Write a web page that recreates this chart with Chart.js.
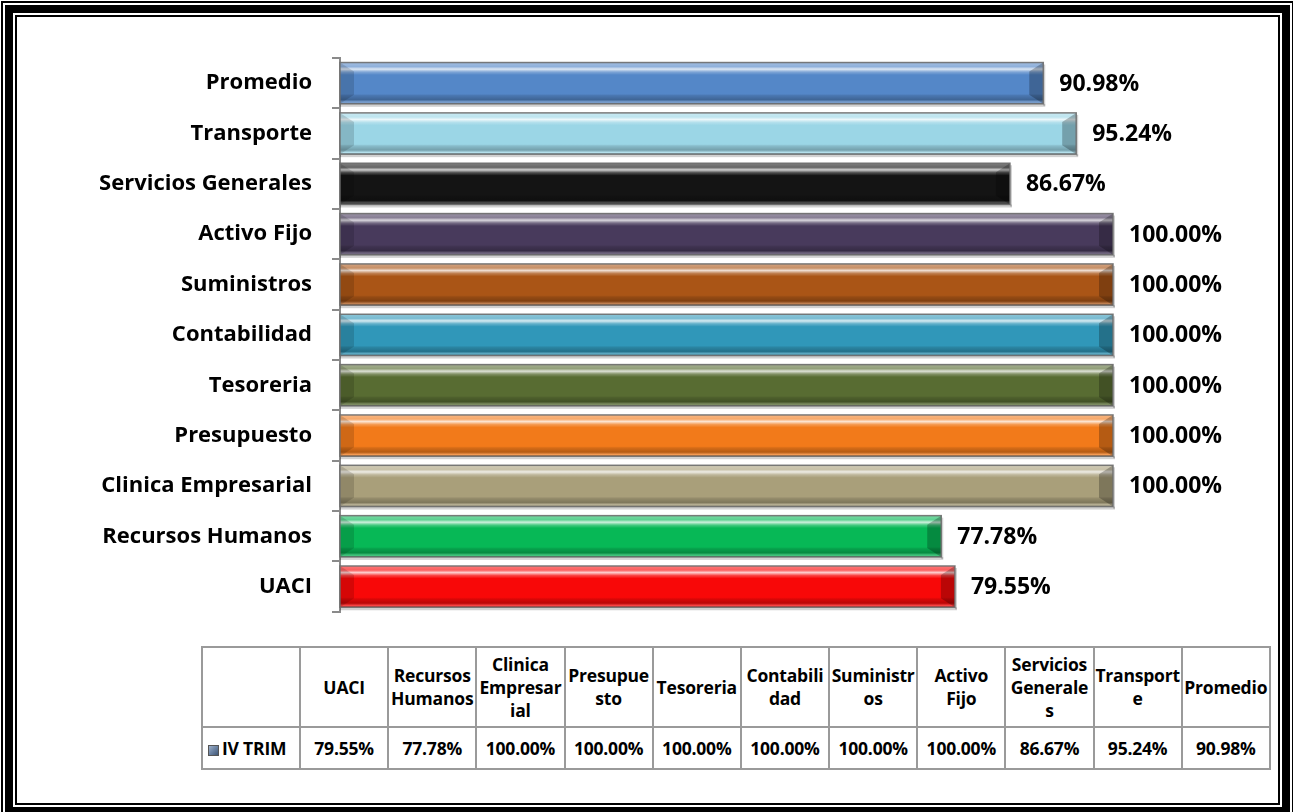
<!DOCTYPE html>
<html lang="es">
<head>
<meta charset="UTF-8">
<title>IV TRIM</title>
<script src="https://cdn.jsdelivr.net/npm/chart.js"></script>
<style>
  html, body { margin: 0; padding: 0; background: #fff; }
  body { width: 1293px; height: 812px; position: relative; overflow: hidden; font-family: "Open Sans", sans-serif; }
  /* thin / thick / thin frame */
  .f1 { position: absolute; left: 1px; top: 1px; width: 1293px; height: 818px; box-sizing: border-box; border: 2px solid #000; padding: 2px; }
  .f2 { height: 100%; box-sizing: border-box; border: 8px solid #000; padding: 2px; }
  .f3 { height: 100%; box-sizing: border-box; border: 2px solid #000; }
  #wrap { position: absolute; left: 0; top: 0; width: 1293px; height: 645px; }
  #dataTable { position: absolute; left: 201px; top: 646px; width: 1068px; table-layout: fixed; border-collapse: collapse;
    font-weight: 700; font-size: 17.5px; letter-spacing: -0.2px; color: #000; }
  #dataTable td { border: 2px solid #9a9a9a; text-align: center; vertical-align: middle; padding: 0; line-height: 23px; white-space: nowrap; overflow: visible; }
  #dataTable tr.head td { height: 78px; }
  #dataTable tr.vals td { height: 40px; }
  #dataTable td.key { text-align: left; padding-left: 5px; }
  .swatch { display: inline-block; width: 11px; height: 11px; margin-right: 3px; vertical-align: -1px;
    background: linear-gradient(135deg, #9fb1c9 0%, #6f86a6 45%, #3f5675 100%); border: 1px solid #555; box-sizing: border-box; }
</style>
</head>
<body>
<div class="f1"><div class="f2"><div class="f3"></div></div></div>
<div id="wrap"><canvas id="chart"></canvas></div>
<table id="dataTable"></table>
<script>
const categories = ['UACI', 'Recursos Humanos', 'Clinica Empresarial', 'Presupuesto', 'Tesoreria',
  'Contabilidad', 'Suministros', 'Activo Fijo', 'Servicios Generales', 'Transporte', 'Promedio'];
// header text of the data table, split the way the cells wrap it
const headerLines = [['UACI'], ['Recursos', 'Humanos'], ['Clinica', 'Empresar', 'ial'], ['Presupue', 'sto'],
  ['Tesoreria'], ['Contabili', 'dad'], ['Suministr', 'os'], ['Activo', 'Fijo'],
  ['Servicios', 'Generale', 's'], ['Transport', 'e'], ['Promedio']];
const seriesName = 'IV TRIM';
const values = [79.55, 77.78, 100, 100, 100, 100, 100, 100, 86.67, 95.24, 90.98];
const barColors = ['#f80808', '#07b856', '#a99f7a', '#f27a1a', '#586c32',
  '#3097b9', '#aa5516', '#483a5c', '#141414', '#9bd6e6', '#5487c8'];

const fmt = v => v.toFixed(2) + '%';

// data table under the chart
const table = document.getElementById('dataTable');
let cols = '<colgroup><col style="width:98px">';
values.forEach(() => { cols += '<col style="width:88.18px">'; });
cols += '</colgroup>';
let head = '<tr class="head"><td></td>';
headerLines.forEach(lines => { head += '<td>' + lines.join('<br>') + '</td>'; });
head += '</tr>';
let row = '<tr class="vals"><td class="key"><span class="swatch"></span>' + seriesName + '</td>';
values.forEach(v => { row += '<td>' + fmt(v) + '</td>'; });
row += '</tr>';
table.innerHTML = cols + head + row;

// bevelled 3D look on top of each bar
const bevel = {
  id: 'bevel',
  beforeDatasetsDraw(chart) {
    const ctx = chart.ctx;
    ctx.save();
    chart.getDatasetMeta(0).data.forEach(bar => {
      const p = bar.getProps(['x', 'y', 'base', 'height'], true);
      const T = p.y - p.height / 2, B = p.y + p.height / 2;
      ctx.fillStyle = 'rgba(0,0,0,0.18)';
      ctx.fillRect(p.base, B, p.x - p.base + 2, 3);
      ctx.fillRect(p.x, T + 2, 2, p.height);
    });
    ctx.restore();
  },
  afterDatasetsDraw(chart) {
    const ctx = chart.ctx;
    ctx.save();
    chart.getDatasetMeta(0).data.forEach(bar => {
      const p = bar.getProps(['x', 'y', 'base', 'height'], true);
      const L = p.base, R = p.x, T = p.y - p.height / 2, B = p.y + p.height / 2;
      const bx = 14, by = 9;

      // glossy streak across the face
      const g = ctx.createLinearGradient(0, T, 0, B);
      g.addColorStop(0, 'rgba(255,255,255,0.45)');
      g.addColorStop(0.1, 'rgba(255,255,255,0.35)');
      g.addColorStop(0.16, 'rgba(255,255,255,0.8)');
      g.addColorStop(0.23, 'rgba(255,255,255,0.25)');
      g.addColorStop(0.3, 'rgba(255,255,255,0)');
      g.addColorStop(0.76, 'rgba(0,0,0,0)');
      g.addColorStop(0.8, 'rgba(0,0,0,0.12)');
      g.addColorStop(0.9, 'rgba(0,0,0,0.25)');
      g.addColorStop(0.96, 'rgba(255,255,255,0.25)');
      g.addColorStop(1, 'rgba(0,0,0,0.45)');
      ctx.fillStyle = g;
      ctx.fillRect(L, T, R - L, B - T);

      const poly = (pts, fill) => {
        ctx.beginPath();
        ctx.moveTo(pts[0][0], pts[0][1]);
        pts.slice(1).forEach(q => ctx.lineTo(q[0], q[1]));
        ctx.closePath();
        ctx.fillStyle = fill;
        ctx.fill();
      };
      // left bevel
      poly([[L, T], [L + bx, T + by], [L + bx, B - by], [L, B]], 'rgba(0,0,0,0.14)');
      // right bevel
      poly([[R, T], [R, B], [R - bx, B - by], [R - bx, T + by]], 'rgba(0,0,0,0.25)');

      ctx.strokeStyle = 'rgba(110,110,110,0.9)';
      ctx.lineWidth = 1.5;
      ctx.strokeRect(L, T, R - L, B - T);
    });
    ctx.restore();
  }
};

// value printed at the end of every bar
const endLabels = {
  id: 'endLabels',
  afterDatasetsDraw(chart) {
    const ctx = chart.ctx;
    ctx.save();
    ctx.font = 'bold 23px "Open Sans"';
    ctx.fillStyle = '#000';
    ctx.textAlign = 'left';
    ctx.textBaseline = 'middle';
    chart.getDatasetMeta(0).data.forEach((bar, i) => {
      ctx.fillText(fmt(values[i]), bar.x + 16, bar.y + 1);
    });
    ctx.restore();
  }
};

new Chart(document.getElementById('chart'), {
  type: 'bar',
  data: {
    labels: categories,
    datasets: [{
      label: seriesName,
      data: values,
      backgroundColor: barColors,
      borderWidth: 0,
      barPercentage: 0.82,
      categoryPercentage: 1
    }]
  },
  options: {
    indexAxis: 'y',
    responsive: true,
    maintainAspectRatio: false,
    animation: false,
    layout: { padding: { left: 0, right: 180, top: 58, bottom: 14 } },
    plugins: { legend: { display: false }, tooltip: { enabled: false } },
    scales: {
      x: { display: false, min: 0, max: 100 },
      y: {
        reverse: true,
        afterFit(scale) { scale.width = 340; },
        grid: { drawOnChartArea: false, drawTicks: true, tickLength: 8, color: '#8a8a8a', lineWidth: 2 },
        border: { display: true, color: '#8a8a8a', width: 2 },
        ticks: { color: '#000', padding: 20, font: { family: 'Open Sans', weight: 'bold', size: 22 } }
      }
    }
  },
  plugins: [bevel, endLabels]
});
</script>
</body>
</html>
